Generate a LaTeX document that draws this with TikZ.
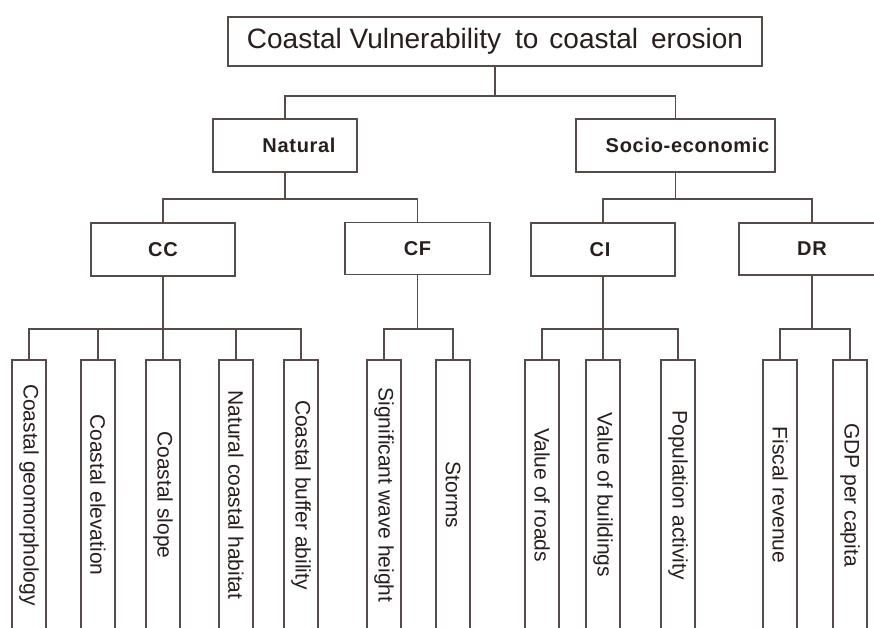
\documentclass[tikz,border=0pt]{standalone}
\usepackage{fontspec}
\setmainfont{Liberation Sans}
\newfontfamily\spacedsans[LetterSpace=3.5]{Liberation Sans}
\definecolor{linec}{RGB}{85,75,75}
\definecolor{textc}{RGB}{40,30,30}
\tikzset{
  box/.style={draw=linec, line width=1.4pt, inner sep=0pt, text=textc},
  boldlabel/.style={font=\spacedsans\fontsize{20}{23}\selectfont\bfseries},
  midbox/.style={box, boldlabel, minimum width=144pt, minimum height=53pt},
  leaf/.style={box, rotate=-90, minimum width=270pt, minimum height=34pt, font=\fontsize{21}{24}\selectfont},
  conn/.style={draw=linec, line width=1.4pt},
}
\begin{document}
\begin{tikzpicture}[x=1pt,y=-1pt]
\useasboundingbox (0,0) rectangle (874,628);
\fill[white] (0,0) rectangle (874,628);
\coordinate (b1) at (0,96);
\coordinate (b2) at (0,199);
\coordinate (b3) at (0,329);
% top
\node[box, minimum width=534pt, minimum height=49pt, font=\fontsize{28}{32}\selectfont] (top) at (495,41.5)
  {Coastal Vulnerability\hspace{14pt}to\hspace{11pt}coastal\hspace{13pt}erosion};
% level 1
\node[midbox] (nat) at (285,145.5) {\hspace*{28pt}Natural};
\node[midbox, minimum width=199pt] (soc) at (675.5,145.5) {\hspace*{24pt}Socio-economic};
% level 2
\node[midbox] (cc) at (163,249.5) {CC};
\node[midbox, minimum width=145pt, minimum height=52pt] (cf) at (417.5,248.5) {CF};
\node[midbox] (ci) at (603,249.5) {\hspace*{-6pt}CI};
\node[midbox, minimum width=146pt, minimum height=52pt] (dr) at (812,249) {DR};
% leaves
\node[leaf] (l1) at (29,495) {Coastal geomorphology};
\node[leaf] (l2) at (98,495) {Coastal elevation};
\node[leaf] (l3) at (163,495) {Coastal slope};
\node[leaf] (l4) at (236,495) {Natural coastal habitat};
\node[leaf] (l5) at (301,495) {Coastal buffer ability};
\node[leaf] (l6) at (384,495) {Significant wave height};
\node[leaf] (l7) at (453,495) {Storms};
\node[leaf] (l8) at (542,495) {Value of roads};
\node[leaf] (l9) at (603,495) {Value of buildings};
\node[leaf] (l10) at (678,495) {Population activity};
\node[leaf] (l11) at (780,495) {Fiscal revenue};
\node[leaf] (l12) at (850,495) {GDP per capita};
% connectors level 1
\draw[conn] (top.south) -- (top.south |- b1);
\draw[conn] (nat.north) |- (soc.north |- b1) -- (soc.north);
% level 2
\draw[conn] (nat.south) -- (nat.south |- b2);
\draw[conn] (cc.north) |- (cf.north |- b2) -- (cf.north);
\draw[conn] (soc.south) -- (soc.south |- b2);
\draw[conn] (ci.north) |- (dr.north |- b2) -- (dr.north);
% level 3
\draw[conn] (cc.south) -- (l3.west);
\draw[conn] (l1.west) |- (l5.west |- b3) -- (l5.west);
\draw[conn] (l2.west) -- (l2.west |- b3);
\draw[conn] (l4.west) -- (l4.west |- b3);
\draw[conn] (cf.south) -- (cf.south |- b3);
\draw[conn] (l6.west) |- (l7.west |- b3) -- (l7.west);
\draw[conn] (ci.south) -- (l9.west);
\draw[conn] (l8.west) |- (l10.west |- b3) -- (l10.west);
\draw[conn] (dr.south) -- (dr.south |- b3);
\draw[conn] (l11.west) |- (l12.west |- b3) -- (l12.west);
\end{tikzpicture}
\end{document}
